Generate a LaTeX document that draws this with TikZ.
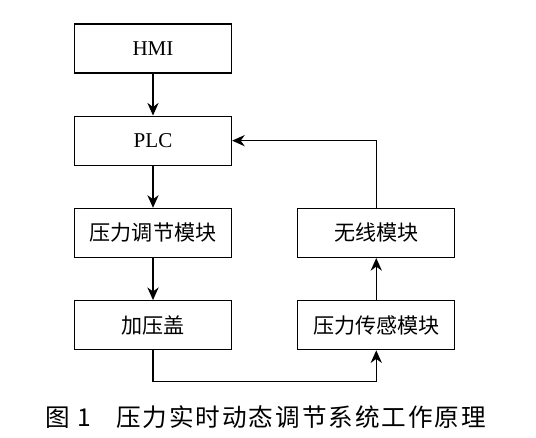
\documentclass[tikz,border=0pt]{standalone}
\usepackage{fontspec}
\setmainfont{Liberation Serif}
\newfontfamily\cjk{Noto Sans CJK SC}
\newfontfamily\cjkcap[LetterSpace=8]{Noto Sans CJK SC}
\usepackage{tikz}
\usetikzlibrary{arrows.meta, positioning}
\tikzset{
  base/.style  = {draw=black, line width=0.9pt, align=center,
                  font=\fontsize{15}{17}\selectfont\cjk,
                  minimum width=3.925cm, minimum height=1.225cm},
  blk/.style   = {base},
  arr/.style   = {-{Stealth[length=9pt,width=8pt]}, line width=0.8pt},
}

\begin{document}
\begin{tikzpicture}[node distance=1.05cm and 1.625cm]
  \useasboundingbox (0,0) rectangle (13.4,-10.95);
  \node[blk] (hmi) at (3.825,-1.21) {\rmfamily HMI};
  \node[blk, below=of hmi]  (plc)  {\rmfamily PLC};
  \node[blk, below=of plc]  (tj)   {压力调节模块};
  \node[blk, below=of tj]   (jyg)  {加压盖};
  \node[blk, right=of jyg]  (cg)   {压力传感模块};
  \node[blk, above=of cg]   (wx)   {无线模块};

  % caption
  \node[font=\fontsize{17.5}{21}\selectfont\cjkcap] (cap) at (6.65,-10.42)
       {图\hspace{0.3em}1\hspace{1em}压力实时动态调节系统工作原理};

  \draw[arr] (hmi)--(plc);
  \draw[arr] (plc)--(tj);
  \draw[arr] (tj)--(jyg);
  \draw[arr] (jyg.south) -- ++(0,-0.78) -| (cg.south);
  \draw[arr] (cg)--(wx);
  \draw[arr] (wx.north) |- (plc.east);
\end{tikzpicture}
\end{document}
